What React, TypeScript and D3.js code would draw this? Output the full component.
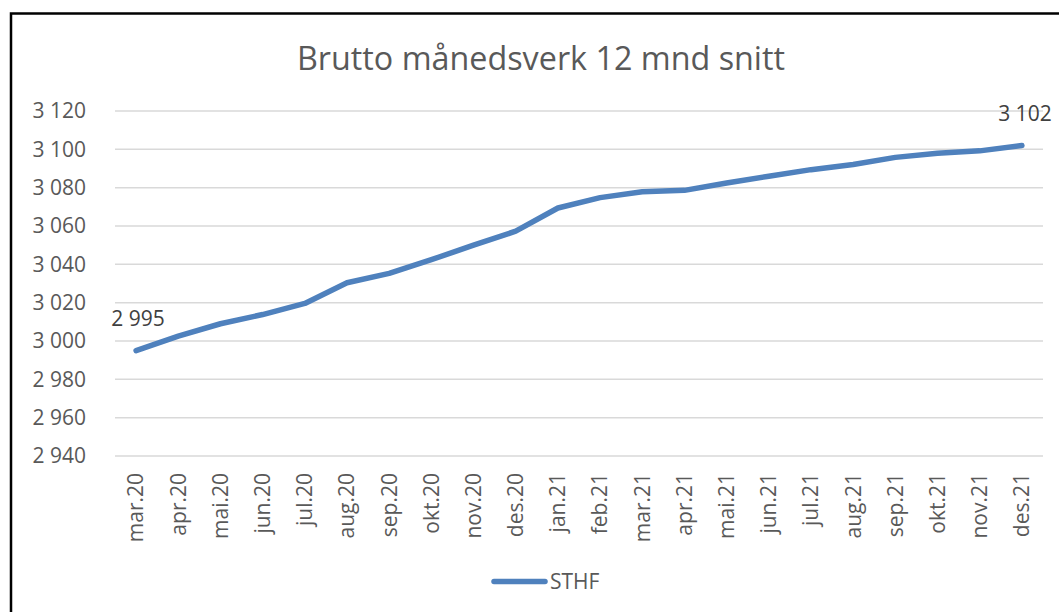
import React from "react";
import * as d3 from "d3";

const months = [
  "mar.20", "apr.20", "mai.20", "jun.20", "jul.20", "aug.20", "sep.20", "okt.20",
  "nov.20", "des.20", "jan.21", "feb.21", "mar.21", "apr.21", "mai.21", "jun.21",
  "jul.21", "aug.21", "sep.21", "okt.21", "nov.21", "des.21",
];
const sthf = [
  2995, 3002.5, 3009, 3013.8, 3019.6, 3030.4, 3035.3, 3042.4,
  3050, 3057.3, 3069.4, 3074.8, 3077.9, 3078.6, 3082.4, 3086,
  3089.4, 3092.1, 3095.8, 3098, 3099.2, 3102,
];
const yTicks = [2940, 2960, 2980, 3000, 3020, 3040, 3060, 3080, 3100, 3120];
const title = "Brutto månedsverk 12 mnd snitt";
const seriesName = "STHF";
const labelIdx = [0, 21];

const W = 1059;
const H = 612;
const FONT = "'Open Sans', 'Noto Sans', sans-serif";
const TXT = "#595959";
const BLUE = "#4f81bd";

const fmt = (v: number) => {
  const s = Math.round(v).toString();
  return s.replace(/\B(?=(\d{3})+(?!\d))/g, " ");
};

export default function App() {
  const x = d3.scaleBand<string>().domain(months).range([115, 1043]);
  const y = d3.scaleLinear().domain([2940, 3120]).range([456, 111]);
  const cx = (m: string) => (x(m) as number) + x.bandwidth() / 2;
  const line = d3
    .line<number>()
    .x((_, i) => cx(months[i]))
    .y((d) => y(d));

  return (
    <svg
      width={W}
      height={H}
      style={{ position: "fixed", top: 0, left: 0, background: "#fff" }}
      fontFamily={FONT}
    >
      <rect x={0} y={0} width={W} height={H} fill="#fff" />
      <path d={`M11,${H} L11,13.5 L${W},13.5`} fill="none" stroke="#000" strokeWidth={2.5} />
      <text x={541} y={70} textAnchor="middle" fontSize={32.3} fill={TXT}>
        {title}
      </text>
      {yTicks.map((t) => (
        <g key={t}>
          <line x1={115} x2={1043} y1={y(t)} y2={y(t)} stroke="#d9d9d9" strokeWidth={1.5} />
          <text x={86} y={y(t)} dy="0.35em" textAnchor="end" fontSize={21} fill={TXT}>
            {fmt(t)}
          </text>
        </g>
      ))}
      {months.map((m) => (
        <text
          key={m}
          transform={`translate(${cx(m)},473) rotate(-90)`}
          dy="0.35em"
          textAnchor="end"
          fontSize={21}
          fill={TXT}
        >
          {m}
        </text>
      ))}
      <path
        d={line(sthf) || ""}
        fill="none"
        stroke={BLUE}
        strokeWidth={5.5}
        strokeLinejoin="round"
        strokeLinecap="round"
      />
      {labelIdx.map((i) => (
        <text
          key={i}
          x={cx(months[i]) + (i === 0 ? 2 : 3)}
          y={y(sthf[i]) - 25}
          textAnchor="middle"
          fontSize={21}
          fill="#404040"
        >
          {fmt(sthf[i])}
        </text>
      ))}
      <line x1={494} x2={545} y1={581.5} y2={581.5} stroke={BLUE} strokeWidth={5.5} strokeLinecap="round" />
      <text x={550} y={581.5} dy="0.35em" fontSize={21} fill={TXT}>
        {seriesName}
      </text>
    </svg>
  );
}
